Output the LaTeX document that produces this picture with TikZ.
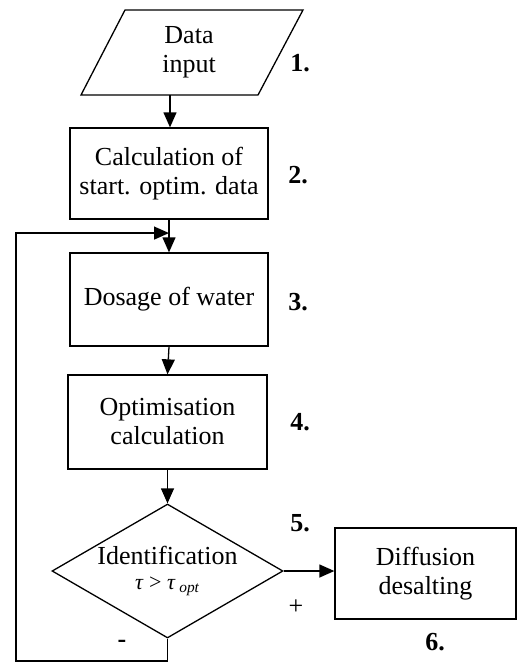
\documentclass[tikz,border=0pt]{standalone}
\usepackage{fontspec}
\setmainfont{Liberation Serif}
\usetikzlibrary{arrows.meta,shapes.geometric,calc}

\begin{document}
\begin{tikzpicture}[>={Triangle[length=15pt,width=13pt]}, x=1pt, y=-1pt, font=\fontsize{26}{29}\selectfont, line width=1.3pt]
	\tikzset{block/.style={draw, rectangle, align=center, inner sep=0pt}}
	\tikzset{num/.style={font=\fontsize{26}{29}\selectfont\bfseries}}
	\useasboundingbox (0,0) rectangle (517,662);
	% blocks
	\draw (125,10) -- (303,10) -- (258,95) -- (81,95) -- cycle;
	\node[align=center] (input) at (189,52.5) {Data\\input};
	\coordinate (inbottom) at (170,95);
	\node[block, minimum width=198pt, minimum height=91pt] (start) at (169,173.5) {Calculation of\\start. optim. data};
	\node[block, minimum width=198pt, minimum height=93pt] (dosage) at (169,299.5) {Dosage of water};
	\node[block, minimum width=199pt, minimum height=94pt] (optim) at (167.5,422) {Optimisation\\calculation};
	\node[draw, diamond, aspect=1.72, minimum width=231pt, minimum height=134pt, align=center, inner sep=0pt] (ident) at (167.5,571) {\raisebox{-4pt}{Identification}\\{\fontsize{22}{26}\selectfont\textit{τ} > \textit{τ}\,\textsubscript{\textit{opt}}}};
	\node[block, minimum width=181pt, minimum height=91pt] (desalt) at (425.5,573.5) {Diffusion\\desalting};
	% step numbers
	\node[num] (n1) at (300,63) {1.};
	\node[num] (n2) at (298,175) {2.};
	\node[num] (n3) at (298,302) {3.};
	\node[num] (n4) at (300,422) {4.};
	\node[num] (n5) at (300,523) {5.};
	\node[num] (n6) at (435,642) {6.};
	\node (plus) at (296,607) {+};
	\node[num] (minus) at (122,644) {-};
	% connectors
	\draw[->] (inbottom) -- (inbottom |- start.north);
	\draw[->] (start.south) -- (dosage.north);
	\draw[->] (dosage.south) -- (optim.north);
	\draw[->] (optim.south) -- (ident.north);
	\draw[->] (ident.east) -- (ident.east -| desalt.west);
	\coordinate (merge) at ($(start.south)!0.41!(dosage.north)$);
	\coordinate (corner) at (16,661);
	\draw[->] (ident.south) |- (corner) |- (merge);
\end{tikzpicture}
\end{document}
